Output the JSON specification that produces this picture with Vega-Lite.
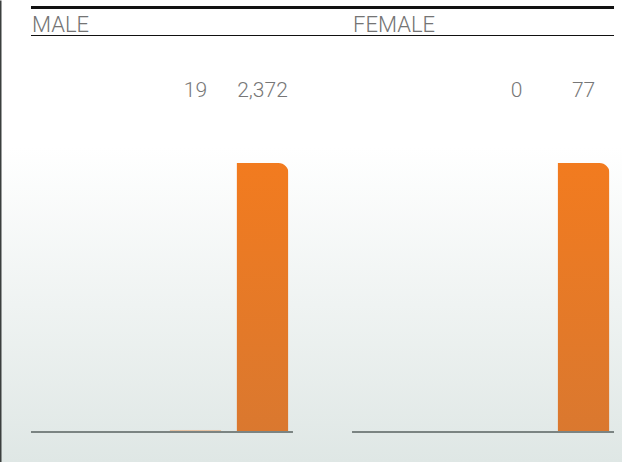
{
  "$schema": "https://vega.github.io/schema/vega-lite/v6.json",
  "width": 622,
  "height": 462,
  "autosize": {"type": "fit", "contains": "padding"},
  "padding": 0,
  "background": "#ffffff",
  "config": {
    "font": "Roboto",
    "view": {
      "stroke": null,
      "fill": {
        "gradient": "linear",
        "x1": 0, "y1": 0, "x2": 0, "y2": 1,
        "stops": [
          {"offset": 0, "color": "#ffffff"},
          {"offset": 0.32, "color": "#ffffff"},
          {"offset": 1, "color": "#DFE7E5"}
        ]
      }
    }
  },
  "datasets": {
    "counts": [
      {"gender": "MALE", "slot": "C", "value": 19},
      {"gender": "MALE", "slot": "D", "value": 2372},
      {"gender": "FEMALE", "slot": "C", "value": 0},
      {"gender": "FEMALE", "slot": "D", "value": 77}
    ],
    "panels": [
      {"gender": "MALE"},
      {"gender": "FEMALE"}
    ],
    "frame": [{}]
  },
  "data": {"name": "counts"},
  "layer": [
    {
      "data": {"name": "frame"},
      "mark": {"type": "rule", "color": "#111111", "strokeWidth": 3},
      "encoding": {
        "x": {"datum": "MALE", "type": "nominal", "bandPosition": 0, "axis": null,
              "scale": {"domain": ["MALE", "FEMALE"], "paddingInner": 0.184, "paddingOuter": 0.0607, "align": 0.795}},
        "x2": {"datum": "FEMALE", "bandPosition": 1},
        "y": {"value": 7.5}
      }
    },
    {
      "data": {"name": "frame"},
      "mark": {"type": "rule", "color": "#111111", "strokeWidth": 1.2},
      "encoding": {
        "x": {"datum": "MALE", "type": "nominal", "bandPosition": 0, "axis": null},
        "x2": {"datum": "FEMALE", "bandPosition": 1},
        "y": {"value": 35.5}
      }
    },
    {
      "data": {"name": "panels"},
      "mark": {"type": "text", "align": "left", "baseline": "alphabetic", "dx": 1, "fontSize": 22, "fontWeight": 300, "color": "#747474"},
      "encoding": {
        "x": {"field": "gender", "type": "nominal", "bandPosition": 0, "axis": null},
        "y": {"value": 31.5},
        "text": {"field": "gender", "type": "nominal"}
      }
    },
    {
      "transform": [{"filter": "datum.gender === 'MALE'"}],
      "layer": [
        {
          "mark": {"type": "bar", "cornerRadiusTopRight": 10,
                   "fill": {"gradient": "linear", "x1": 0, "y1": 0, "x2": 0, "y2": 1,
                            "stops": [{"offset": 0, "color": "#F27B1F"}, {"offset": 1, "color": "#DA782F"}]}},
          "encoding": {
            "x": {"field": "gender", "type": "nominal", "axis": null},
            "xOffset": {"field": "slot", "type": "nominal", "scale": {"domain": ["A", "B", "C", "D"], "paddingInner": 0.224, "paddingOuter": 0.067}},
            "y": {"field": "value", "type": "quantitative", "scale": {"domain": [-264.5, 3809.3], "nice": false, "zero": false},
                  "axis": {"orient": "left", "domain": true, "domainColor": "#3B3F3E", "domainWidth": 2, "ticks": false, "labels": false, "grid": false, "title": null}},
            "opacity": {"field": "slot", "type": "ordinal", "scale": {"domain": ["C", "D"], "range": [0.35, 1]}, "legend": null}
          }
        },
        {
          "mark": {"type": "text", "align": "center", "baseline": "alphabetic", "fontSize": 21, "fontWeight": 300, "color": "#777777"},
          "encoding": {
            "x": {"field": "gender", "type": "nominal", "axis": null},
            "xOffset": {"field": "slot", "type": "nominal"},
            "y": {"value": 97},
            "text": {"field": "value", "type": "quantitative", "format": ","}
          }
        },
        {
          "transform": [{"filter": "datum.slot === 'D'"}],
          "mark": {"type": "rule", "color": "#7B8482", "strokeWidth": 2},
          "encoding": {
            "x": {"field": "gender", "type": "nominal", "bandPosition": 0, "axis": null},
            "x2": {"field": "gender", "bandPosition": 1},
            "y": {"datum": 0, "type": "quantitative"}
          }
        }
      ]
    },
    {
      "transform": [{"filter": "datum.gender === 'FEMALE'"}],
      "layer": [
        {
          "mark": {"type": "bar", "cornerRadiusTopRight": 10,
                   "fill": {"gradient": "linear", "x1": 0, "y1": 0, "x2": 0, "y2": 1,
                            "stops": [{"offset": 0, "color": "#F27B1F"}, {"offset": 1, "color": "#DA782F"}]}},
          "encoding": {
            "x": {"field": "gender", "type": "nominal", "axis": null},
            "xOffset": {"field": "slot", "type": "nominal"},
            "y": {"field": "value", "type": "quantitative", "scale": {"domain": [-8.587, 123.66], "nice": false, "zero": false}, "axis": null},
            "opacity": {"field": "slot", "type": "ordinal", "legend": null}
          }
        },
        {
          "mark": {"type": "text", "align": "center", "baseline": "alphabetic", "fontSize": 21, "fontWeight": 300, "color": "#777777"},
          "encoding": {
            "x": {"field": "gender", "type": "nominal", "axis": null},
            "xOffset": {"field": "slot", "type": "nominal"},
            "y": {"value": 97},
            "text": {"field": "value", "type": "quantitative", "format": ","}
          }
        },
        {
          "transform": [{"filter": "datum.slot === 'D'"}],
          "mark": {"type": "rule", "color": "#7B8482", "strokeWidth": 2},
          "encoding": {
            "x": {"field": "gender", "type": "nominal", "bandPosition": 0, "axis": null},
            "x2": {"field": "gender", "bandPosition": 1},
            "y": {"datum": 0, "type": "quantitative"}
          }
        }
      ]
    }
  ],
  "resolve": {"scale": {"y": "independent"}}
}
